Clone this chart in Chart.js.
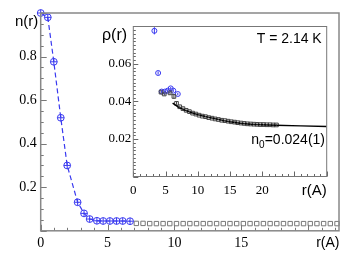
<!DOCTYPE html>
<html><head><meta charset="utf-8">
<script src="https://cdn.jsdelivr.net/npm/chart.js@4.4.0/dist/chart.umd.min.js"></script>
<style>
html,body{margin:0;padding:0;background:#fff;}
#wrap{position:relative;width:352px;height:272px;}
#main{position:absolute;left:0;top:0;}
#inset{position:absolute;left:96px;top:16px;}
</style></head><body>
<div id="wrap"><canvas id="main" width="352" height="272"></canvas><canvas id="inset" width="240" height="190"></canvas></div>
<script>
// main panel n(r)
const nR=[0,0.53,0.98,1.5,1.98,2.76,3.24,3.66,4.2,4.67,5.17,5.67,6.13,6.68];
const nVal=[1.0,0.98,0.776,0.519,0.30,0.131,0.080,0.054,0.046,0.045,0.045,0.045,0.045,0.044];
const tailR=[7.15,7.65,8.15,8.65,9.15,9.65,10.15,10.65,11.15,11.65,12.15,12.65,13.15,13.65,14.15,14.65,15.15,15.65,16.15,16.65,17.15,17.65,18.15,18.65,19.15,19.65,20.15,20.65,21.15,21.65,22.15];
const tailVal=[0.034,0.034,0.033,0.033,0.033,0.033,0.033,0.033,0.033,0.033,0.033,0.033,0.033,0.033,0.033,0.033,0.033,0.033,0.033,0.033,0.033,0.033,0.033,0.033,0.033,0.033,0.033,0.033,0.033,0.033,0.033];
const mainXTicks=[0,5,10,15];
const mainYTicks=[0.2,0.4,0.6,0.8];

// inset rho(r)
const blueR=[3.27,3.85,4.4,4.9,5.35,5.8,6.2,6.9];
const blueVal=[0.0777,0.0552,0.0453,0.0453,0.0458,0.0470,0.0458,0.0440];
const blueErr=[0.0019,0.0009,0.0007,0.0007,0.0007,0.0007,0.0007,0.0007];
const rhoR=[4.3,4.8,5.7,6.3,6.7,7.2,7.7,8.2,8.7,9.2,9.7,10.2,10.7,11.2,11.7,12.2,12.7,13.2,13.7,14.2,14.7,15.2,15.7,16.2,16.7,17.2,17.7,18.2,18.7,19.2,19.7,20.2,20.7,21.2,21.7,22.2];
const rhoVal=[0.0450,0.0440,0.0446,0.0427,0.0390,0.0372,0.0362,0.0353,0.0346,0.0338,0.0333,0.0327,0.0322,0.0319,0.0314,0.0311,0.0307,0.0304,0.0300,0.0298,0.0295,0.0292,0.0290,0.0287,0.0285,0.0283,0.0281,0.0280,0.0279,0.0278,0.0277,0.0277,0.0276,0.0276,0.0275,0.0275];
const rhoErr=[0.0008,0.0008,0.0008,0.0012,0.0008,0.0006,0.0006,0.0005,0.0005,0.0005,0.0005,0.0004,0.0004,0.0004,0.0004,0.0004,0.0004,0.0004,0.0004,0.0004,0.0004,0.0004,0.0004,0.0004,0.0004,0.0004,0.0004,0.0004,0.0004,0.0004,0.0004,0.0004,0.0004,0.0004,0.0004,0.0004];
const fitR=[6.1,7,8,9,10,11.4,13,14,15,16.6,18.2,20,22,26,30];
const fitVal=[0.0391,0.0370,0.0354,0.0341,0.0330,0.0318,0.0306,0.0298,0.0292,0.0284,0.0279,0.0276,0.0273,0.0270,0.0267];
const insetXTicks=[0,5,10,15,20];
const insetYTicks=[0.02,0.04,0.06];

const pts=(xs,ys)=>xs.map((x,i)=>({x,y:ys[i]}));
const BLUE='#3a3af0';
const SERIF='"Liberation Serif","DejaVu Serif",serif';
const SANS='"Liberation Sans","DejaVu Sans",sans-serif';

// frame + inward ticks
const frameTicks={id:'frameTicks',afterDraw(c,args,o){
const {ctx,chartArea:a,scales:{x,y}}=c;
ctx.save();
ctx.strokeStyle=o.color;ctx.lineWidth=1;
const near=(v,s)=>Math.abs(v/s-Math.round(v/s))<1e-6;
for(let v=x.min;v<=x.max+1e-9;v+=o.xMinor){
const px=Math.round(x.getPixelForValue(v))+0.5;
ctx.beginPath();ctx.moveTo(px,a.bottom);ctx.lineTo(px,a.bottom-(near(v,o.xMajor)?o.big:o.small));ctx.stroke();
}
for(let v=y.min;v<=y.max+1e-9;v+=o.yMinor){
const py=Math.round(y.getPixelForValue(v))+0.5;
ctx.beginPath();ctx.moveTo(a.left,py);ctx.lineTo(a.left+(near(v,o.yMajor)?o.big:o.small),py);ctx.stroke();
}
ctx.lineWidth=o.width;ctx.strokeStyle=o.frame;
ctx.strokeRect(a.left,a.top,a.right-a.left,a.bottom-a.top);
ctx.restore();
}};

// vertical error bars
const errBars={id:'errBars',afterDatasetsDraw(c){
const {ctx,scales:{y}}=c;
c.data.datasets.forEach((ds,i)=>{
if(!ds.err)return;
const meta=c.getDatasetMeta(i);
ctx.save();ctx.strokeStyle=ds.borderColor;ctx.lineWidth=1;
meta.data.forEach((p,j)=>{
const v=ds.data[j].y,e=ds.err[j];
ctx.beginPath();ctx.moveTo(p.x,y.getPixelForValue(v+e));ctx.lineTo(p.x,y.getPixelForValue(v-e));ctx.stroke();
});
ctx.restore();
});
}};

// free text labels
const texts={id:'texts',afterDraw(c,args,o){
const ctx=c.ctx;ctx.save();ctx.fillStyle='#000';
o.items.forEach(t=>{
ctx.font=t.font;ctx.textAlign=t.align||'left';ctx.textBaseline=t.base||'middle';
if(t.parts){
ctx.textAlign='left';
let w=0;t.parts.forEach(p=>{ctx.font=p.font;w+=ctx.measureText(p.s).width;});
let x=t.x-w;
t.parts.forEach(p=>{ctx.font=p.font;ctx.fillText(p.s,x,t.y+(p.dy||0));x+=ctx.measureText(p.s).width;});
}else ctx.fillText(t.s,t.x,t.y);
});
ctx.restore();
}};

const setTicks=vals=>axis=>{axis.ticks=vals.map(v=>({value:v}));};

new Chart(document.getElementById('main'),{
type:'scatter',
data:{datasets:[
{data:pts(nR,nVal),showLine:true,borderColor:BLUE,borderWidth:1.2,borderDash:[5,3],pointRadius:0,clip:false},
{data:pts(nR,nVal),pointStyle:'circle',pointRadius:3.4,borderColor:BLUE,backgroundColor:'rgba(0,0,0,0)',borderWidth:1,clip:false},
{data:pts(nR,nVal),pointStyle:'cross',pointRadius:3.4,borderColor:BLUE,borderWidth:1,clip:false},
{data:pts(tailR,tailVal),pointStyle:'rect',pointRadius:3.1,borderColor:'#777',backgroundColor:'rgba(0,0,0,0)',borderWidth:1,clip:false}
]},
options:{responsive:false,animation:false,devicePixelRatio:1,
layout:{padding:{top:13,right:13,left:0,bottom:0}},
scales:{
x:{type:'linear',min:0,max:22.3,grid:{display:false,drawTicks:false},border:{display:false},
afterBuildTicks:setTicks(mainXTicks),afterFit:s=>{s.height=41.2;},
ticks:{padding:4,color:'#000',font:{family:SERIF,size:14}}},
y:{min:0,max:1.0,grid:{display:false,drawTicks:false},border:{display:false},
afterBuildTicks:setTicks(mainYTicks),afterFit:s=>{s.width=40.7;},
ticks:{padding:4,color:'#000',font:{family:SERIF,size:14}}}
},
plugins:{legend:{display:false},tooltip:{enabled:false},
frameTicks:{color:'#777',frame:'#888',width:1.5,xMinor:1,xMajor:5,yMinor:0.05,yMajor:0.2,big:6,small:3},
texts:{items:[
{s:'n(r)',x:15,y:22,font:'15px '+SANS},
{s:'r(A)',x:339.5,y:243,font:'14px '+SANS,align:'right'}
]}}},
plugins:[frameTicks,texts]
});

new Chart(document.getElementById('inset'),{
type:'scatter',
data:{datasets:[
{data:pts(fitR,fitVal),showLine:true,borderColor:'#000',borderWidth:1.5,pointRadius:0},
{data:pts(rhoR,rhoVal),err:rhoErr,pointStyle:'rect',pointRadius:2.6,borderColor:'#444',backgroundColor:'rgba(0,0,0,0)',borderWidth:1},
{data:pts(blueR,blueVal),err:blueErr,pointStyle:'circle',pointRadius:2.5,borderColor:BLUE,backgroundColor:'rgba(0,0,0,0)',borderWidth:1}
]},
options:{responsive:false,animation:false,devicePixelRatio:1,
layout:{padding:{top:10.5,right:9.3,left:0,bottom:0}},
scales:{
x:{type:'linear',min:0,max:30,grid:{display:false,drawTicks:false},border:{display:false},
afterBuildTicks:setTicks(insetXTicks),afterFit:s=>{s.height=29.5;},
ticks:{padding:6,color:'#000',font:{family:SERIF,size:13}}},
y:{min:0,max:0.08,grid:{display:false,drawTicks:false},border:{display:false},
afterBuildTicks:setTicks(insetYTicks),afterFit:s=>{s.width=37.3;},
ticks:{padding:2,color:'#000',font:{family:SERIF,size:13}}}
},
plugins:{legend:{display:false},tooltip:{enabled:false},
frameTicks:{color:'#666',frame:'#777',width:1,xMinor:1,xMajor:5,yMinor:0.002,yMajor:0.02,big:5,small:2.5},
texts:{items:[
{s:'ρ(r)',x:6,y:20,font:'16px '+SANS},
{s:'T = 2.14 K',x:225.7,y:23,font:'14px '+SANS,align:'right'},
{x:229,y:124,parts:[{s:'n',font:'14px '+SANS},{s:'0',font:'10px '+SANS,dy:5},{s:'=0.024(1)',font:'14px '+SANS}]},
{s:'r(A)',x:230.7,y:174.5,font:'15px '+SANS,align:'right'}
]}}},
plugins:[frameTicks,errBars,texts]
});
</script>
</body></html>
